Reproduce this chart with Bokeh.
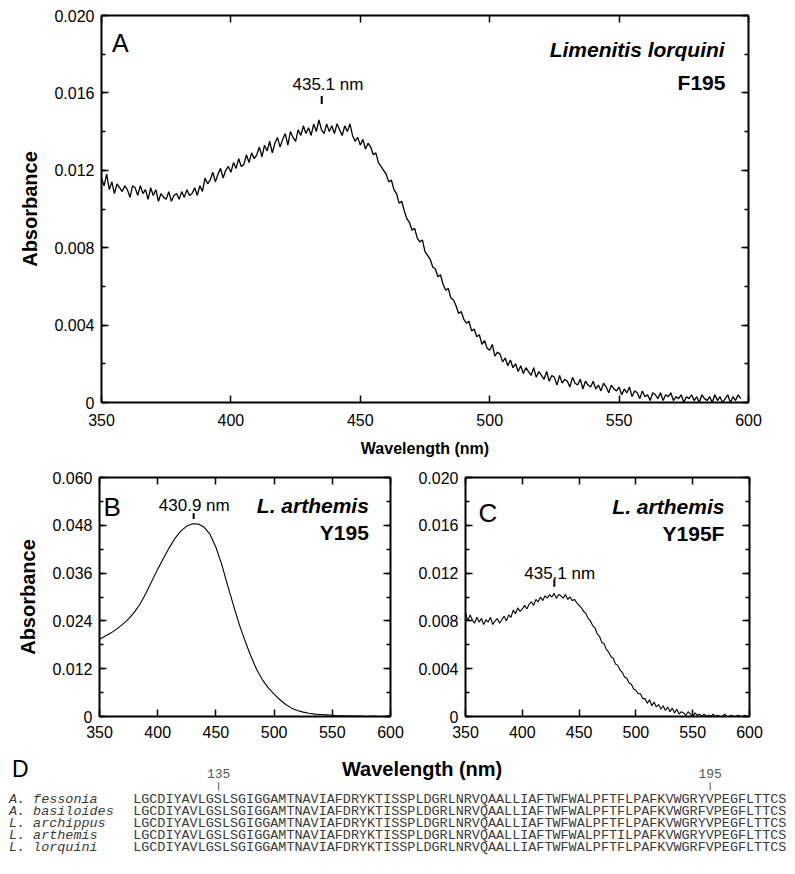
from bokeh.plotting import figure
from bokeh.models import Range1d, LinearAxis, SingleIntervalTicker, CustomJSTickFormatter
from bokeh.layouts import column, row
from bokeh.embed import file_html
from bokeh.resources import INLINE
from bokeh.core.properties import value

# ---------------- data ----------------
# Panel A: Limenitis lorquini F195 (1 nm steps, 350-597 nm)
wl_a = list(range(350, 598))
abs_a = [
    0.0116, 0.0112, 0.0118, 0.0110, 0.0114, 0.0108, 0.0113, 0.0111, 0.0109, 0.0112,
    0.0110, 0.0106, 0.0112, 0.0111, 0.0107, 0.0112, 0.0108, 0.0110, 0.0105, 0.0111,
    0.0107, 0.0110, 0.0104, 0.0108, 0.0106, 0.0105, 0.0109, 0.0104, 0.0107, 0.0108,
    0.0105, 0.0109, 0.0106, 0.0110, 0.0107, 0.0108, 0.0111, 0.0107, 0.0112, 0.0109,
    0.0116, 0.0113, 0.0115, 0.0119, 0.0114, 0.0118, 0.0121, 0.0116, 0.0120, 0.0122,
    0.0119, 0.0124, 0.0121, 0.0126, 0.0122, 0.0123, 0.0128, 0.0124, 0.0129, 0.0126,
    0.0128, 0.0132, 0.0127, 0.0133, 0.0130, 0.0135, 0.0129, 0.0134, 0.0137, 0.0132,
    0.0136, 0.0139, 0.0133, 0.0140, 0.0137, 0.0135, 0.0141, 0.0138, 0.0143, 0.0139,
    0.0142, 0.0138, 0.0144, 0.0140, 0.0146, 0.0141, 0.0139, 0.0144, 0.0140, 0.0143,
    0.0139, 0.0144, 0.0141, 0.0138, 0.0143, 0.0140, 0.0144, 0.0138, 0.0135, 0.0137,
    0.0133, 0.0136, 0.0131, 0.0134, 0.0132, 0.0128, 0.0129, 0.0124, 0.0122, 0.0120,
    0.0118, 0.0114, 0.0115, 0.0110, 0.0108, 0.0103, 0.0104, 0.0099, 0.0095, 0.0093,
    0.0089, 0.0090, 0.0085, 0.0083, 0.0084, 0.0078, 0.0076, 0.0074, 0.0070, 0.0069,
    0.0065, 0.0066, 0.0061, 0.0058, 0.0059, 0.0054, 0.0053, 0.0050, 0.0046, 0.0047,
    0.0043, 0.0041, 0.0042, 0.0037, 0.0038, 0.0034, 0.0035, 0.0030, 0.0032, 0.0028,
    0.0027, 0.0030, 0.0024, 0.0026, 0.0025, 0.0021, 0.0023, 0.0019, 0.0022, 0.0018,
    0.0020, 0.0016, 0.0019, 0.0015, 0.0018, 0.0016, 0.0014, 0.0018, 0.0013, 0.0016,
    0.0014, 0.0012, 0.0016, 0.0011, 0.0014, 0.0013, 0.0009, 0.0014, 0.0010, 0.0012,
    0.0011, 0.0008, 0.0013, 0.0010, 0.0009, 0.0012, 0.0007, 0.0011, 0.0009, 0.0008,
    0.0011, 0.0007, 0.0009, 0.0006, 0.0010, 0.0008, 0.0005, 0.0009, 0.0007, 0.0006,
    0.0008, 0.0004, 0.0007, 0.0005, 0.0008, 0.0003, 0.0006, 0.0005, 0.0002, 0.0006,
    0.0003, 0.0004, 0.0001, 0.0005, 0.0004, 0.0002, 0.0005, 0.0001, 0.0004, 0.0003,
    0.0005, 0.0001, 0.0003, 0.0002, 0.0004, 0.0000, 0.0003, 0.0002, 0.0004, 0.0001,
    0.0003, 0.0000, 0.0004, 0.0002, 0.0001, 0.0003, 0.0000, 0.0004, 0.0001, 0.0003,
    0.0000, 0.0002, 0.0004, 0.0000, 0.0003, 0.0001, 0.0004, 0.0002,
]

# Panel B: L. arthemis Y195 (5 nm steps)
wl_b = list(range(350, 601, 5))
abs_b = [
    0.0194, 0.0202, 0.0210, 0.0220, 0.0232, 0.0245, 0.0262, 0.0283, 0.0310, 0.0340,
    0.0370, 0.0397, 0.0424, 0.0448, 0.0466, 0.0478, 0.0484, 0.0483, 0.0475, 0.0457,
    0.0425, 0.0382, 0.0330, 0.0280, 0.0232, 0.0190, 0.0152, 0.0118, 0.0092, 0.0072,
    0.0056, 0.0042, 0.0030, 0.0021, 0.0015, 0.0011, 0.0008, 0.0006, 0.0005, 0.0004,
    0.0003, 0.0002, 0.0002, 0.0001, 0.0001, 0.0001, 0.0000, 0.0001, 0.0000, 0.0000,
    0.0001,
]

# Panel C: L. arthemis Y195F (2 nm steps)
wl_c = list(range(350, 599, 2))
abs_c = [
    0.0087, 0.0080, 0.0085, 0.0081, 0.0078, 0.0083, 0.0079, 0.0082, 0.0077, 0.0081,
    0.0079, 0.0083, 0.0077, 0.0080, 0.0082, 0.0078, 0.0081, 0.0084, 0.0080, 0.0085,
    0.0083, 0.0089, 0.0086, 0.0091, 0.0088, 0.0090, 0.0093, 0.0090, 0.0094, 0.0096,
    0.0093, 0.0098, 0.0096, 0.0100, 0.0097, 0.0101, 0.0099, 0.0102, 0.0100, 0.0103,
    0.0099, 0.0102, 0.0101, 0.0099, 0.0102, 0.0098, 0.0100, 0.0097, 0.0098, 0.0095,
    0.0093, 0.0091, 0.0088, 0.0086, 0.0082, 0.0080, 0.0076, 0.0074, 0.0069, 0.0067,
    0.0062, 0.0061, 0.0056, 0.0054, 0.0050, 0.0049, 0.0044, 0.0043, 0.0039, 0.0037,
    0.0033, 0.0032, 0.0028, 0.0027, 0.0023, 0.0022, 0.0019, 0.0019, 0.0015, 0.0015,
    0.0011, 0.0014, 0.0009, 0.0012, 0.0008, 0.0010, 0.0006, 0.0009, 0.0005, 0.0008,
    0.0004, 0.0007, 0.0003, 0.0006, 0.0002, 0.0004, 0.0003, 0.0001, 0.0004, 0.0002,
    0.0000, 0.0003, 0.0001, 0.0002, 0.0000, 0.0002, 0.0000, 0.0001, 0.0000, 0.0002,
    0.0000, 0.0001, 0.0000, 0.0000, 0.0002, 0.0000, 0.0000, 0.0001, 0.0000, 0.0000,
    0.0001, 0.0000, 0.0000, 0.0001, 0.0000,
]

# Peak annotations (label, marker position, marker span)
peak_labels = ["435.1 nm", "430.9 nm", "435.1 nm"]
peak_x = [435.1, 430.9, 428.2]
peak_y0 = [0.01542, 0.0496, 0.01085]
peak_y1 = [0.01584, 0.0510, 0.01149]

# Panel D: alignment
species = ["A. fessonia", "A. basiloides", "L. archippus", "L. arthemis", "L. lorquini"]
sequences = [
    "LGCDIYAVLGSLSGIGGAMTNAVIAFDRYKTISSPLDGRLNRVQAALLIAFTWFWALPFTFLPAFKVWGRYVPEGFLTTCS",
    "LGCDIYAVLGSLSGIGGAMTNAVIAFDRYKTISSPLDGRLNRVQAALLIAFTWFWALPFTFLPAFKVWGRFVPEGFLTTCS",
    "LGCDIYAVLGSLSGIGGAMTNAVIAFDRYKTISSPLDGRLNRVQAALLIAFTWFWALPFTFLPAFKVWGRYVPEGFLTTCS",
    "LGCDIYAVLGSLSGIGGAMTNAVIAFDRYKTISSPLDGRLNRVQAALLIAFTWFWALPFTILPAFKVWGRYVPEGFLTTCS",
    "LGCDIYAVLGSLSGIGGAMTNAVIAFDRYKTISSPLDGRLNRVQAALLIAFTWFWALPFTFLPAFKVWGRFVPEGFLTTCS",
]
site_labels = ["135", "195"]
site_cols = [10.6, 71.5]

SANS = "Liberation Sans"
MONO = "Liberation Mono"


def make_axes(p, x_int, y_int, y_label=None, x_label=None, x_label_size="16px",
              y_label_size="20px", tick_size="16px", x_std=10, y_std=7,
              xl_std=8, yl_std=10):
    bottom = p.below[0]
    left = p.left[0]
    p.xgrid.visible = False
    p.ygrid.visible = False
    p.outline_line_color = None
    top = LinearAxis()
    right = LinearAxis()
    p.add_layout(top, "above")
    p.add_layout(right, "right")
    for ax in [bottom, top]:
        ax.ticker = SingleIntervalTicker(interval=x_int, num_minor_ticks=0)
    for ax in [left, right]:
        ax.ticker = SingleIntervalTicker(interval=y_int, num_minor_ticks=2)
    for ax in [bottom, left, top, right]:
        ax.axis_line_width = 2
        ax.axis_line_color = "black"
        ax.major_tick_in = 7
        ax.major_tick_out = 0
        ax.minor_tick_in = 4
        ax.minor_tick_out = 0
        ax.major_tick_line_width = 1.5
        ax.minor_tick_line_width = 1.5
        ax.major_tick_line_color = "black"
        ax.minor_tick_line_color = "black"
        ax.major_label_text_font = SANS
        ax.major_label_text_color = "black"
        ax.major_label_text_font_size = tick_size
        ax.axis_label_text_color = "black"
    for ax in [top, right]:
        ax.major_label_text_color = None
        ax.major_label_text_font_size = "1px"
        ax.major_label_standoff = 0
    left.formatter = CustomJSTickFormatter(code="return tick == 0 ? '0' : tick.toFixed(3);")
    bottom.major_label_standoff = x_std
    left.major_label_standoff = y_std
    if x_label:
        bottom.axis_label = x_label
        bottom.axis_label_text_font = SANS
        bottom.axis_label_text_font_style = "bold"
        bottom.axis_label_text_font_size = x_label_size
        bottom.axis_label_standoff = xl_std
    if y_label:
        left.axis_label = y_label
        left.axis_label_text_font = SANS
        left.axis_label_text_font_style = "bold"
        left.axis_label_text_font_size = y_label_size
        left.axis_label_standoff = yl_std


def annot(p, x, y, txt, size, style="normal", align="left"):
    p.text(x=[x], y=[y], text=[txt], text_font=value(SANS), text_font_size=value(size),
           text_font_style=value(style), text_align=value(align),
           text_baseline=value("alphabetic"), text_color="black")


# ---------------- Panel A ----------------
pa = figure(width=795, height=462, x_range=Range1d(350, 600), y_range=Range1d(0, 0.020),
            min_border_left=101, min_border_right=47, min_border_top=15, min_border_bottom=60,
            toolbar_location=None, output_backend="svg", background_fill_color="white",
            border_fill_color="white")
make_axes(pa, 50, 0.004, y_label="Absorbance", x_label="Wavelength (nm)", x_label_size="16px",
          x_std=11, xl_std=11)
pa.line(wl_a, abs_a, line_color="black", line_width=1.3)
pa.segment(x0=[peak_x[0]], y0=[peak_y0[0]], x1=[peak_x[0]], y1=[peak_y1[0]],
           line_color="black", line_width=2)
annot(pa, 437.5, 0.01642, peak_labels[0], "17px", align="center")
annot(pa, 354.1, 0.01857, "A", "25px")
annot(pa, 590.8, 0.01822, "Limenitis lorquini", "21px", style="bold italic", align="right")
annot(pa, 591.1, 0.01653, "F195", "21px", style="bold", align="right")

# ---------------- Panel B ----------------
pb = figure(width=415, height=286, x_range=Range1d(350, 600), y_range=Range1d(0, 0.060),
            min_border_left=99, min_border_right=25, min_border_top=15, min_border_bottom=32,
            toolbar_location=None, output_backend="svg", background_fill_color="white",
            border_fill_color="white")
make_axes(pb, 50, 0.012, y_label="Absorbance", x_std=9)
pb.line(wl_b, abs_b, line_color="black", line_width=1.1)
pb.segment(x0=[peak_x[1]], y0=[peak_y0[1]], x1=[peak_x[1]], y1=[peak_y1[1]],
           line_color="black", line_width=2)
annot(pb, 431.4, 0.05290, peak_labels[1], "17px", align="center")
annot(pb, 353.4, 0.05265, "B", "26px")
annot(pb, 581.4, 0.05308, "L. arthemis", "21px", style="bold italic", align="right")
annot(pb, 581.4, 0.04621, "Y195", "21px", style="bold", align="right")

# ---------------- Panel C ----------------
pc = figure(width=380, height=286, x_range=Range1d(350, 600), y_range=Range1d(0, 0.020),
            min_border_left=43, min_border_right=46, min_border_top=15, min_border_bottom=32,
            toolbar_location=None, output_backend="svg", background_fill_color="white",
            border_fill_color="white")
make_axes(pc, 50, 0.004, x_std=9)
pc.line(wl_c, abs_c, line_color="black", line_width=1.1)
pc.segment(x0=[peak_x[2]], y0=[peak_y0[2]], x1=[peak_x[2]], y1=[peak_y1[2]],
           line_color="black", line_width=2)
annot(pc, 432.9, 0.01200, peak_labels[2], "17px", align="center")
annot(pc, 361.5, 0.01701, "C", "26px")
annot(pc, 577.9, 0.01757, "L. arthemis", "21px", style="bold italic", align="right")
annot(pc, 577.9, 0.01533, "Y195F", "21px", style="bold", align="right")

# ---------------- Panel D ----------------
rows_y = list(range(len(species)))
pd_ = figure(width=795, height=126, x_range=Range1d(-16.44, 82.07), y_range=Range1d(6.322, -4.356),
             min_border=0, toolbar_location=None, output_backend="svg",
             x_axis_location=None, y_axis_location=None,
             background_fill_color="white", border_fill_color="white")
pd_.grid.visible = False
pd_.outline_line_color = None
pd_.text(x=[35.8], y=[-2.58], text=["Wavelength (nm)"], text_font=value(SANS),
         text_font_size=value("20px"), text_font_style=value("bold"), text_align=value("center"),
         text_baseline=value("alphabetic"), text_color="black")
pd_.text(x=[-15.0], y=[-2.6], text=["D"], text_font=value(SANS), text_font_size=value("23px"),
         text_align=value("left"), text_baseline=value("alphabetic"), text_color="black")
pd_.text(x=site_cols, y=[-2.27] * len(site_cols), text=site_labels, text_font=value(MONO),
         text_font_size=value("13px"), text_align=value("center"), text_baseline=value("middle"),
         text_color="#555555")
pd_.segment(x0=site_cols, y0=[-1.5] * len(site_cols), x1=site_cols, y1=[-0.8] * len(site_cols),
            line_color="#555555", line_width=1)
pd_.text(x=[-15.4] * len(species), y=rows_y, text=species, text_font=value(MONO),
         text_font_size=value("13.45px"), text_font_style=value("italic"), text_align=value("left"),
         text_baseline=value("middle"), text_color="#3a3a3a")
pd_.text(x=[0] * len(sequences), y=rows_y, text=sequences, text_font=value(MONO),
         text_font_size=value("13.45px"), text_align=value("left"), text_baseline=value("middle"),
         text_color="#3a3a3a")

layout = column(row(pa), row(pb, pc), row(pd_))
open("out.html", "w").write(file_html(layout, INLINE))
